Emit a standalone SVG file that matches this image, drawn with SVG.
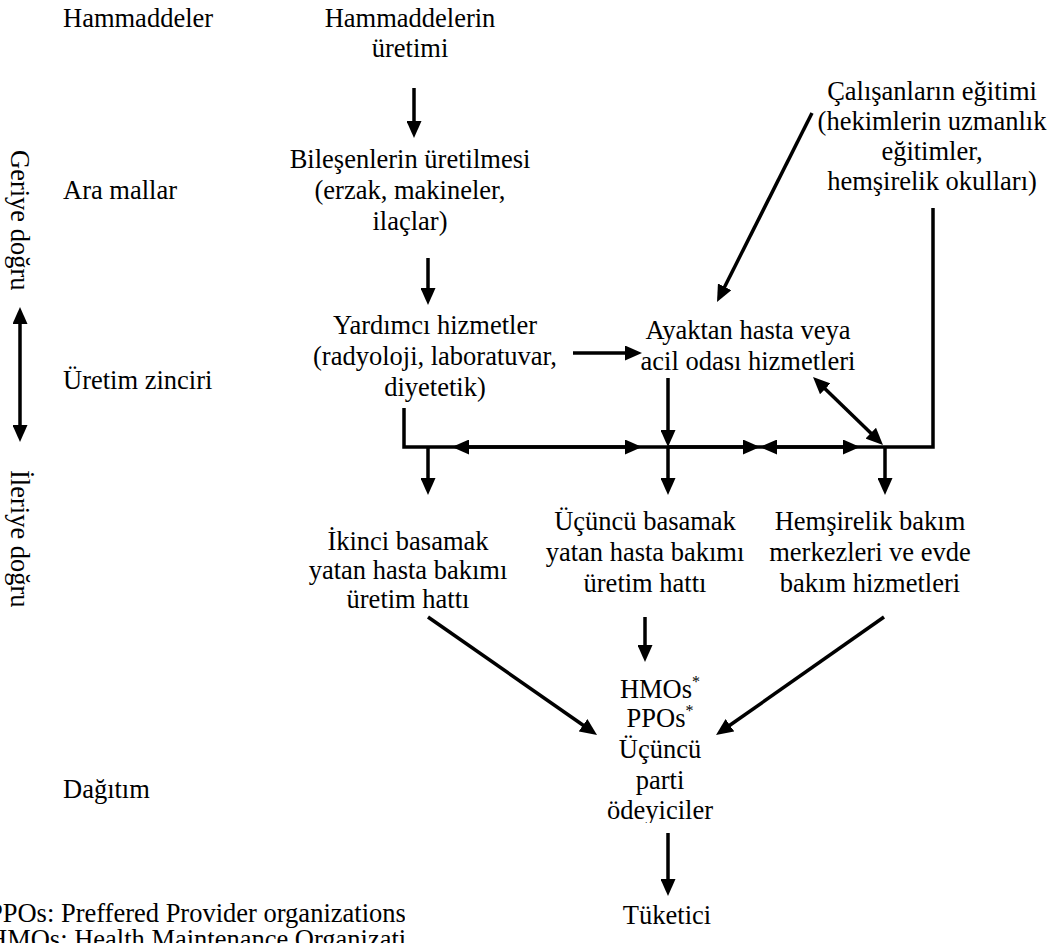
<svg xmlns="http://www.w3.org/2000/svg" width="1057" height="943" viewBox="0 0 1057 943">
  <style>
    text { font-family: "Liberation Serif", "Times New Roman", serif; font-size: 26.5px; fill: #000; }
    .c { text-anchor: middle; }
    .sup { font-size: 16px; }
    .ln { fill: none; stroke: #000; stroke-width: 3.5; }
    .ar { marker-end: url(#head); }
    .dbl { marker-start: url(#head); marker-end: url(#head); }
  </style>
  <defs>
    <!-- filled arrowhead; base sits on the line end, tip extends 16px beyond -->
    <marker id="head" viewBox="0 0 17 15" refX="1" refY="7.5" markerWidth="17" markerHeight="15" markerUnits="userSpaceOnUse" orient="auto-start-reverse">
      <path d="M0,0 L17,7.5 L0,15 z" fill="#000"/>
    </marker>
    <clipPath id="cutPayers">
      <rect x="560" y="660" width="200" height="163"/>
    </clipPath>
    <clipPath id="cutNotes">
      <rect x="0" y="880" width="405" height="63"/>
    </clipPath>
  </defs>
  <rect width="1057" height="943" fill="#fff"/>

  <!-- stage labels -->
  <g id="stages">
    <text x="63" y="27">Hammaddeler</text>
    <text x="63" y="199">Ara mallar</text>
    <text x="63" y="389">Üretim zinciri</text>
    <text x="63" y="798">Dağıtım</text>
    <text transform="translate(11,150) rotate(90)">Geriye doğru</text>
    <text transform="translate(11,470) rotate(90)">İleriye doğru</text>
  </g>

  <g id="raw-materials">
    <text class="c" x="410" y="27">Hammaddelerin</text>
    <text class="c" x="410" y="57">üretimi</text>
  </g>

  <g id="components">
    <text class="c" x="410" y="168">Bileşenlerin üretilmesi</text>
    <text class="c" x="410" y="199">(erzak, makineler,</text>
    <text class="c" x="410" y="230">ilaçlar)</text>
  </g>

  <g id="support-services">
    <text class="c" x="435" y="334">Yardımcı hizmetler</text>
    <text class="c" x="435" y="365">(radyoloji, laboratuvar,</text>
    <text class="c" x="435" y="396">diyetetik)</text>
  </g>

  <g id="outpatient">
    <text class="c" x="748" y="339">Ayaktan hasta veya</text>
    <text class="c" x="748" y="370">acil odası hizmetleri</text>
  </g>

  <g id="staff-training">
    <text class="c" x="932" y="100">Çalışanların eğitimi</text>
    <text class="c" x="932" y="130">(hekimlerin uzmanlık</text>
    <text class="c" x="932" y="160">eğitimler,</text>
    <text class="c" x="932" y="190">hemşirelik okulları)</text>
  </g>

  <g id="secondary-care">
    <text class="c" x="408" y="550">İkinci basamak</text>
    <text class="c" x="408" y="579">yatan hasta bakımı</text>
    <text class="c" x="408" y="608">üretim hattı</text>
  </g>

  <g id="tertiary-care">
    <text class="c" x="645" y="530">Üçüncü basamak</text>
    <text class="c" x="645" y="561">yatan hasta bakımı</text>
    <text class="c" x="645" y="592">üretim hattı</text>
  </g>

  <g id="nursing-care">
    <text class="c" x="870" y="530">Hemşirelik bakım</text>
    <text class="c" x="870" y="561">merkezleri ve evde</text>
    <text class="c" x="870" y="592">bakım hizmetleri</text>
  </g>

  <g id="payers" clip-path="url(#cutPayers)">
    <text class="c" x="660" y="698">HMOs<tspan class="sup" dy="-11">*</tspan></text>
    <text class="c" x="660" y="727">PPOs<tspan class="sup" dy="-11">*</tspan></text>
    <text class="c" x="660" y="758">Üçüncü</text>
    <text class="c" x="660" y="789">parti</text>
    <text class="c" x="660" y="819">ödeyiciler</text>
  </g>

  <g id="consumer">
    <text class="c" x="667" y="924">Tüketici</text>
  </g>

  <g id="footnotes" clip-path="url(#cutNotes)">
    <text x="-12" y="922">PPOs: Preffered Provider organizations</text>
    <text x="-12" y="948">HMOs: Health Maintenance Organizations</text>
  </g>

  <g id="connectors">
    <!-- direction axis -->
    <path class="ln dbl" d="M20,323 V426"/>
    <!-- upstream chain -->
    <path class="ln ar" d="M414,88 V122"/>
    <path class="ln ar" d="M428,258 V289"/>
    <path class="ln ar" d="M573,353 H626"/>
    <path class="ln ar" d="M812,113 L724.2,287.7"/>
    <!-- distribution bus -->
    <path class="ln" d="M404,408 V447 H933 V208"/>
    <path class="ln dbl" d="M468,447 H626"/>
    <path class="ln ar" d="M668,447 H744"/>
    <path class="ln dbl" d="M776,447 H844"/>
    <path class="ln ar" d="M668,378 V431"/>
    <path class="ln dbl" d="M824.5,388.2 L871.5,433.8"/>
    <!-- drops to care lines -->
    <path class="ln ar" d="M428,447 V479"/>
    <path class="ln ar" d="M668,447 V479"/>
    <path class="ln ar" d="M885,447 V479"/>
    <!-- towards payers and consumer -->
    <path class="ln ar" d="M428,617 L583.9,725.8"/>
    <path class="ln ar" d="M884,617 L729.1,725.8"/>
    <path class="ln ar" d="M645,617 V646"/>
    <path class="ln ar" d="M668,833 V880"/>
  </g>
</svg>
